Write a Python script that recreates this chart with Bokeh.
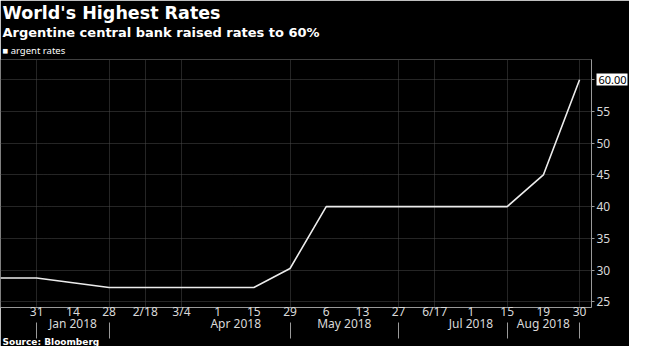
from bokeh.plotting import figure
from bokeh.models import (Title, LinearAxis, FixedTicker, NumeralTickFormatter,
                          ColumnDataSource, Range1d)
from bokeh.embed import file_html
from bokeh.resources import INLINE

# ---- data ----
x_labels = ["", "31", "14", "28", "2/18", "3/4", "1", "15", "29", "6", "13",
            "27", "6/17", "1", "15", "19", "30"]
rates = [28.75, 28.75, 28.0, 27.25, 27.25, 27.25, 27.25, 27.25, 30.25, 40.0,
         40.0, 40.0, 40.0, 40.0, 40.0, 45.0, 60.0]
month_labels = ["Jan 2018", "Apr 2018", "May 2018", "Jul 2018", "Aug 2018"]
month_centers = [1, 5.5, 8.5, 12, 14]
month_breaks = [0, 2, 7, 10, 13, 15]
grid_positions = [0, 2, 3, 4, 7, 10, 11, 13, 15]
y_ticks = [25, 30, 35, 40, 45, 50, 55, 60]
series_name = "argent rates"
title_text = "World's Highest Rates"
subtitle_text = "Argentine central bank raised rates to 60%"
source_text = "Source: Bloomberg"

idx = list(range(-1, len(x_labels) - 1))
src = ColumnDataSource(dict(x=idx, y=rates))

BG = "#000000"
GRID = "#4a4a4a"
AXIS = "#9a9a9a"
TXT = "#d9d9d9"
TICK_FONT = "Noto Sans"

p = figure(width=629, height=346, output_backend="svg", toolbar_location=None,
           x_range=Range1d(idx[0], 15.33), y_range=Range1d(24.1, 63.2),
           y_axis_location="right", background_fill_color=BG,
           border_fill_color=BG, outline_line_color=None,
           min_border_left=0, min_border_right=33, min_border_top=0,
           min_border_bottom=0)

p.line("x", "y", source=src, line_color="#ececec", line_width=1.6)

# titles (last added is outermost)
p.add_layout(Title(text="\u25a0 " + series_name, align="left", text_color="white",
                   text_font=TICK_FONT, text_font_style="normal",
                   text_font_size="9.5px", offset=2, standoff=5), "above")
p.add_layout(Title(text=subtitle_text, align="left", text_color="white",
                   text_font="DejaVu Sans", text_font_style="bold",
                   text_font_size="13px", offset=2, standoff=0), "above")
p.add_layout(Title(text=title_text, align="left", text_color="white",
                   text_font="DejaVu Sans", text_font_style="bold",
                   text_font_size="17.5px", offset=2, standoff=0), "above")

# grids
p.xgrid.ticker = FixedTicker(ticks=grid_positions)
p.ygrid.ticker = FixedTicker(ticks=y_ticks)
for g in (p.xgrid, p.ygrid):
    g.grid_line_color = GRID
    g.grid_line_dash = "1 1"
    g.grid_line_width = 1

# x axis (day labels)
xa = p.xaxis[0]
xa.ticker = FixedTicker(ticks=idx[1:], minor_ticks=[])
xa.major_label_overrides = {i: lab for i, lab in zip(idx, x_labels)}
xa.axis_line_color = AXIS
xa.major_tick_out = 0
xa.major_tick_in = 0
xa.minor_tick_line_color = None
xa.minor_tick_out = 0
xa.minor_tick_in = 0
xa.major_label_text_color = TXT
xa.major_label_text_font = TICK_FONT
xa.major_label_text_font_size = "12px"
xa.major_label_standoff = -5

# month row with separators
ga = LinearAxis(ticker=FixedTicker(ticks=month_centers, minor_ticks=month_breaks),
                major_label_overrides={float(c): lab for c, lab in zip(month_centers, month_labels)},
                axis_line_color=None, major_tick_line_color=None,
                major_tick_out=16, major_tick_in=0,
                minor_tick_line_color=AXIS, minor_tick_out=16, minor_tick_in=0,
                major_label_text_color=TXT, major_label_text_font=TICK_FONT,
                major_label_text_font_size="12px", major_label_standoff=-24)
p.add_layout(ga, "below")
p.add_layout(Title(text=source_text, align="left", text_color="white",
                   text_font="DejaVu Sans", text_font_style="bold",
                   text_font_size="9px", offset=2, standoff=0), "below")

# y axis
ya = p.yaxis[0]
ya.ticker = FixedTicker(ticks=y_ticks, minor_ticks=[])
ya.major_label_overrides = {60: ""}
ya.axis_line_color = AXIS
ya.major_tick_line_color = AXIS
ya.major_tick_out = 3
ya.major_tick_in = 0
ya.minor_tick_line_color = None
ya.major_label_text_color = TXT
ya.major_label_text_font = TICK_FONT
ya.major_label_text_font_size = "12px"
ya.major_label_standoff = 2

# last value tag: white tick as box, black label on top
tag = LinearAxis(ticker=FixedTicker(ticks=[rates[-1]], minor_ticks=[]),
                 formatter=NumeralTickFormatter(format="0.00"),
                 axis_line_color=None, major_tick_line_color="white",
                 major_tick_line_width=12, major_tick_in=17, major_tick_out=14,
                 minor_tick_line_color=None,
                 major_label_text_color="black", major_label_text_font=TICK_FONT,
                 major_label_text_font_size="11px", major_label_standoff=-29)
p.add_layout(tag, "right")

open("out.html", "w").write(file_html(p, INLINE))
